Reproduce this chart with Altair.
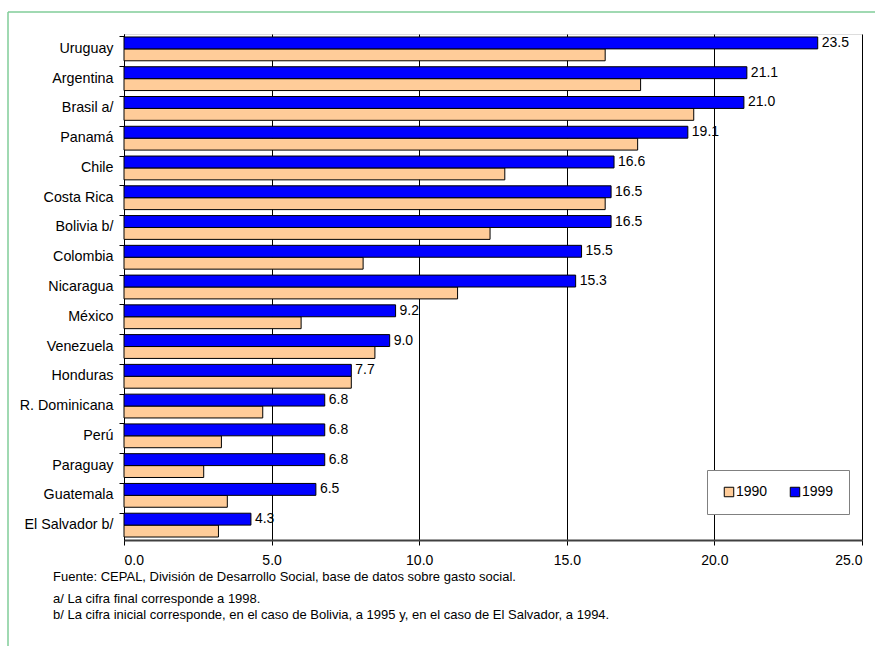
import altair as alt
import pandas as pd

countries = ["Uruguay", "Argentina", "Brasil a/", "Panamá", "Chile", "Costa Rica",
             "Bolivia b/", "Colombia", "Nicaragua", "México", "Venezuela", "Honduras",
             "R. Dominicana", "Perú", "Paraguay", "Guatemala", "El Salvador b/"]
v1990 = [16.3, 17.5, 19.3, 17.4, 12.9, 16.3, 12.4, 8.1, 11.3, 6.0, 8.5, 7.7,
         4.7, 3.3, 2.7, 3.5, 3.2]
v1999 = [23.5, 21.1, 21.0, 19.1, 16.6, 16.5, 16.5, 15.5, 15.3, 9.2, 9.0, 7.7,
         6.8, 6.8, 6.8, 6.5, 4.3]
years = ["1990", "1999"]
year_colors = ["#FFCC99", "#0000FF"]
x_ticks = [0, 5, 10, 15, 20, 25]

note_source = "Fuente: CEPAL, División de Desarrollo Social, base de datos sobre gasto social."
note_a = "a/ La cifra final corresponde a 1998."
note_b = "b/ La cifra inicial corresponde, en el caso de Bolivia, a 1995 y, en el caso de El Salvador, a 1994."

rows = []
for c, a, b in zip(countries, v1990, v1999):
    rows.append({"pais": c, "anio": "1990", "valor": a})
    rows.append({"pais": c, "anio": "1999", "valor": b})
df = pd.DataFrame(rows)

FONT = "Liberation Sans"
W, H = 738, 506
PL, PT = 124, 34

y_enc = alt.Y("pais:N", sort=countries, title=None,
              scale=alt.Scale(paddingInner=0.2, paddingOuter=0.1),
              axis=alt.Axis(labelFontSize=14.3, labelColor="#000000", domainColor="#000000",
                            tickColor="#000000", tickSize=5, labelPadding=6,
                            bandPosition=0, labelFont=FONT))
yoff_enc = alt.YOffset("anio:N", scale=alt.Scale(domain=["1999", "1990"]))
x_enc = alt.X("valor:Q", title=None,
              scale=alt.Scale(domain=[0, 25], nice=False),
              axis=alt.Axis(values=x_ticks, format=".1f", grid=True, gridColor="#000000",
                            gridOpacity=1, gridWidth=1, tickColor="#000000", tickSize=5,
                            domainColor="#404040", domainWidth=2, labelFontSize=14,
                            labelColor="#000000", labelPadding=8, labelFont=FONT))

bars = alt.Chart(df).mark_bar(stroke="#000000", strokeWidth=1).encode(
    y=y_enc,
    yOffset=yoff_enc,
    x=x_enc,
    color=alt.Color("anio:N", title=None,
                    scale=alt.Scale(domain=years, range=year_colors),
                    legend=alt.Legend(orient="none", legendX=583, legendY=436,
                                      direction="horizontal", fillColor="#FFFFFF",
                                      strokeColor="#808080", padding=15,
                                      symbolType="square", symbolSize=90,
                                      symbolStrokeColor="#000000", symbolStrokeWidth=1,
                                      labelFontSize=14, labelFont=FONT, labelColor="#000000",
                                      labelOffset=0, columnPadding=20)),
)

labels = alt.Chart(df).transform_filter(alt.datum.anio == "1999").mark_text(
    align="left", baseline="middle", dx=4, fontSize=14, font=FONT, color="#000000"
).encode(
    y=alt.Y("pais:N", sort=countries),
    yOffset=yoff_enc,
    x=alt.X("valor:Q"),
    text=alt.Text("valor:Q", format=".1f"),
)

one = alt.Data(values=[{"k": 1}])

def note(txt, y):
    return alt.Chart(one).mark_text(align="left", baseline="alphabetic", fontSize=13,
                                    font=FONT, color="#000000").encode(
        x=alt.value(53 - PL), y=alt.value(y - PT), text=alt.value(txt))

frame_left = alt.Chart(one).mark_rule(color="#80CC99", strokeWidth=1.5).encode(
    x=alt.value(8 - PL), y=alt.value(12 - PT), y2=alt.value(646 - PT))
frame_top = alt.Chart(one).mark_rule(color="#80CC99", strokeWidth=1.5).encode(
    x=alt.value(8 - PL), x2=alt.value(875 - PL), y=alt.value(12 - PT))

chart = alt.layer(
    bars, labels,
    note(note_source, 581), note(note_a, 603), note(note_b, 619),
    frame_left, frame_top,
).properties(
    width=W, height=H,
    padding={"left": PL, "top": PT, "right": 875 - PL - W, "bottom": 646 - PT - H},
    autosize=alt.AutoSizeParams(type="none"),
    background="#FFFFFF",
).configure_view(
    fill="#FFFFCC", stroke="#808080", strokeWidth=1.5
).configure(font=FONT)

chart.save("out.html", embed_options={"renderer": "svg", "actions": False})
